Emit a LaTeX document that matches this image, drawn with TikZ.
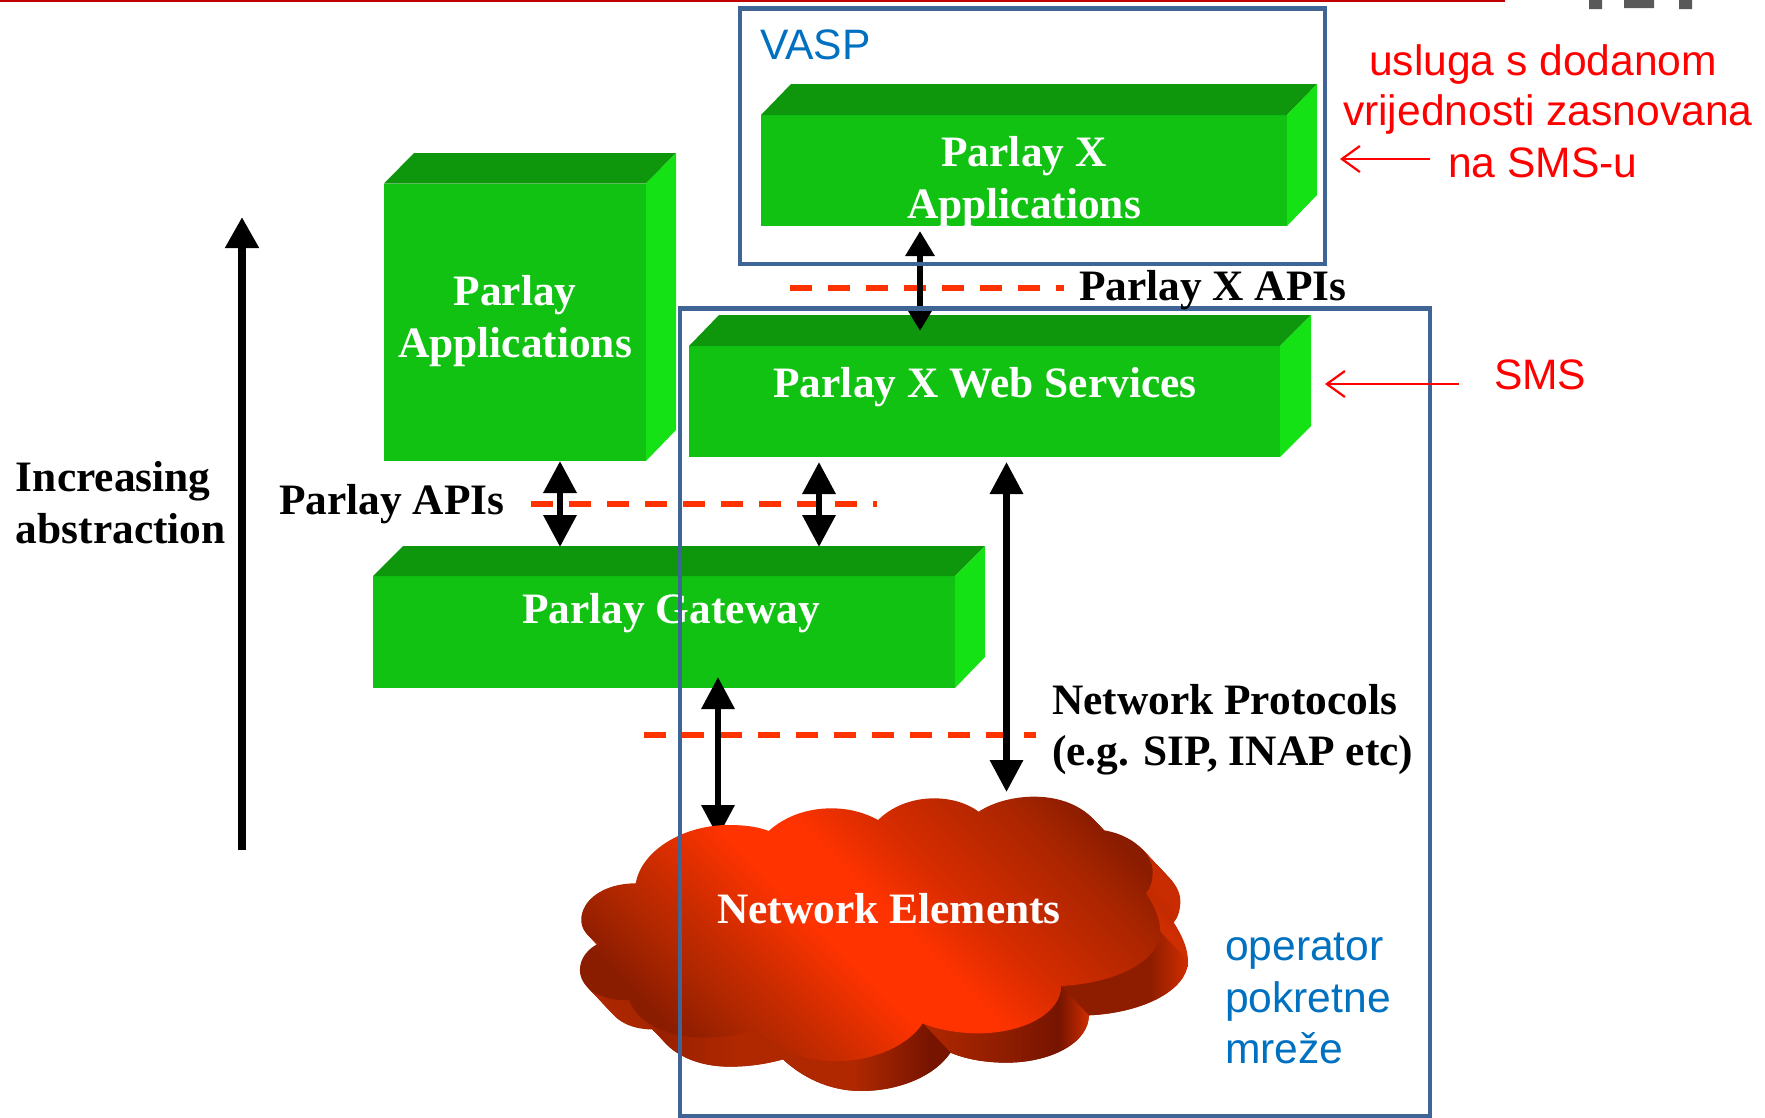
\documentclass[tikz,border=0pt]{standalone}
\usepackage{fontspec}
\setmainfont{Liberation Serif}
\newfontfamily\arialf{Liberation Sans}
\usetikzlibrary{arrows.meta}
\definecolor{gfront}{HTML}{11C213}
\definecolor{gtop}{HTML}{0E960D}
\definecolor{gside}{HTML}{14E214}
\definecolor{frameblue}{HTML}{3F6496}
\definecolor{txtblue}{HTML}{0070C0}
\definecolor{dashred}{HTML}{FF3300}
\definecolor{cA}{HTML}{8A1C00}
\definecolor{cB}{HTML}{A82500}
\definecolor{cC}{HTML}{D82C00}
\definecolor{cD}{HTML}{FF3300}
\definecolor{cE}{HTML}{AF2700}
\definecolor{cF}{HTML}{CC2C00}
\definecolor{sdark}{HTML}{761400}
\definecolor{smid}{HTML}{8E1D00}
\definecolor{slight}{HTML}{B02800}
\definecolor{sbright}{HTML}{D02E00}
\pgfdeclareverticalshading{cloudtop}{100bp}{color(0bp)=(cA); color(24.5bp)=(cA); color(31.6bp)=(cE); color(37.3bp)=(cF); color(45.8bp)=(cD); color(52.8bp)=(cD); color(59.9bp)=(cC); color(72.6bp)=(cB); color(78.3bp)=(cA); color(100bp)=(cA)}
\pgfdeclarehorizontalshading{sidebase}{100bp}{color(0bp)=(slight); color(25bp)=(slight); color(40bp)=(smid); color(68bp)=(smid); color(75bp)=(sbright); color(100bp)=(sbright)}
\pgfdeclarehorizontalshading{lobeA}{100bp}{color(0bp)=(smid); color(25bp)=(smid); color(60bp)=(smid); color(75bp)=(sbright); color(100bp)=(sbright)}
\pgfdeclarehorizontalshading{lobeB}{100bp}{color(0bp)=(slight); color(25bp)=(slight); color(50bp)=(smid); color(66bp)=(sdark); color(75bp)=(sbright); color(100bp)=(sbright)}
\pgfdeclarehorizontalshading{lobeC}{100bp}{color(0bp)=(slight); color(25bp)=(slight); color(50bp)=(slight); color(70bp)=(sdark); color(75bp)=(sdark); color(100bp)=(sdark)}
\pgfdeclarehorizontalshading{lobeD}{100bp}{color(0bp)=(smid); color(25bp)=(smid); color(60bp)=(slight); color(75bp)=(slight); color(100bp)=(slight)}
\tikzset{
  front/.style={fill=gfront,draw=none,inner sep=0pt,outer sep=0pt,text=white,align=center,anchor=north west},
  topface/.style={fill=gtop,draw=none},
  sideface/.style={fill=gside,draw=none},
  serifb/.style={font=\fontsize{43.4}{52}\selectfont\bfseries,inner sep=0pt,outer sep=0pt,anchor=base west},
  whiteb/.style={serifb,text=white,anchor=base},
  sanslab/.style={font=\arialf\fontsize{42.6}{51}\selectfont,inner sep=0pt,outer sep=0pt,anchor=base west},
  redlab/.style={sanslab,text=red},
  bluelab/.style={sanslab,text=txtblue},
  redarrow/.style={draw=red,line width=2.2pt,-{Straight Barb[length=18pt,width=26pt,line width=2.2pt]}},
  frameline/.style={draw=frameblue,line width=4.6pt},
  apidash/.style={draw=dashred,line width=6pt,dash pattern=on 22pt off 16pt},
  bigdbl/.style={draw=black,line width=6.5pt,{Triangle[length=32pt,width=32pt]}-{Triangle[length=32pt,width=32pt]}},
  smalldbl/.style={draw=black,line width=6.5pt,{Triangle[length=25pt,width=28pt]}-{Triangle[length=25pt,width=28pt]}},
  uparrow/.style={draw=black,line width=8pt,-{Triangle[length=31pt,width=32pt]}},
}
\newcommand{\cloudoutline}{(192,370)
 .. controls (205,270) and (300,195) .. (400,195)
 .. controls (435,195) and (465,200) .. (490,213)
 .. controls (525,170) and (575,145) .. (630,145)
 .. controls (670,145) and (705,158) .. (735,180)
 .. controls (765,140) and (810,115) .. (860,115)
 .. controls (900,115) and (935,130) .. (960,155)
 .. controls (995,125) and (1040,110) .. (1085,110)
 .. controls (1155,110) and (1210,150) .. (1235,210)
 .. controls (1300,220) and (1350,280) .. (1350,335)
 .. controls (1350,360) and (1345,385) .. (1335,400)
 .. controls (1355,440) and (1367,480) .. (1367,515)
 .. controls (1367,600) and (1270,670) .. (1145,678)
 .. controls (1145,760) and (1060,820) .. (960,820)
 .. controls (915,820) and (870,810) .. (835,790)
 .. controls (800,860) and (720,905) .. (635,905)
 .. controls (560,905) and (500,860) .. (460,810)
 .. controls (420,825) and (380,832) .. (340,832)
 .. controls (260,832) and (195,785) .. (178,720)
 .. controls (110,725) and (67,680) .. (67,630)
 .. controls (67,595) and (85,565) .. (110,550)
 .. controls (85,530) and (70,510) .. (70,480)
 .. controls (70,420) and (120,370) .. (192,370) -- cycle}
\begin{document}
\begin{tikzpicture}[x=1pt,y=-1pt]
\useasboundingbox (0,0) rectangle (1765,1117);
% header remnants
\fill[fill=red!75!black] (0,0) rectangle (1505,2);
\fill[fill=black!65] (1589,0) rectangle (1602,9) (1624,0) rectangle (1654,8) (1679,0) rectangle (1692,9);
% green blocks
\node[front,minimum width=262pt,minimum height=277.5pt] (papps) at (384,183.5) {};
\fill[topface] (papps.north west) -- (414,153) -- (676,153) -- (papps.north east) -- cycle;
\fill[sideface] (papps.north east) -- (676,153) -- (676,430) -- (papps.south east) -- cycle;
\node[front,minimum width=526pt,minimum height=111pt] (pxapps) at (761,115) {};
\fill[topface] (pxapps.north west) -- (791,84) -- (1317,84) -- (pxapps.north east) -- cycle;
\fill[sideface] (pxapps.north east) -- (1317,84) -- (1317,195) -- (pxapps.south east) -- cycle;
\node[front,minimum width=591pt,minimum height=111pt] (pxws) at (689,346) {};
\fill[topface] (pxws.north west) -- (719,315) -- (1311,315) -- (pxws.north east) -- cycle;
\fill[sideface] (pxws.north east) -- (1311,315) -- (1311,426) -- (pxws.south east) -- cycle;
\node[front,minimum width=582pt,minimum height=112pt] (gw) at (373,576) {};
\fill[topface] (gw.north west) -- (403,546) -- (985,546) -- (gw.north east) -- cycle;
\fill[sideface] (gw.north east) -- (985,546) -- (985,657) -- (gw.south east) -- cycle;
% block labels
\node[whiteb] (t1) at (515,305) {Parlay};
\node[whiteb] (t2) at (515,357) {Applications};
\node[whiteb] (t3) at (1024,166) {Parlay X};
\node[whiteb] (t4) at (1024,218) {Applications};
\node[whiteb] (t5) at (985,397) {Parlay X Web Services};
\node[whiteb] (t6) at (671,623) {Parlay Gateway};
% dashed API lines
\draw[apidash] (790,288) -- (1064,288);
\draw[apidash] (531,504) -- (877,504);
\draw[apidash] (644,735) -- (1036,735);
% black arrows
\coordinate (a1a) at (920,231); \coordinate (a1b) at (920,331);
\coordinate (a2a) at (560,461); \coordinate (a2b) at (560,547);
\coordinate (a3a) at (819,462); \coordinate (a3b) at (819,547);
\coordinate (a4a) at (1006.5,462); \coordinate (a4b) at (1006.5,792);
\coordinate (a5a) at (718,677); \coordinate (a5b) at (718,837);
\coordinate (a6a) at (242,850); \coordinate (a6b) at (242,217);
\draw[smalldbl] (a1a) -- (a1b);
\draw[bigdbl] (a2a) -- (a2b);
\draw[bigdbl] (a3a) -- (a3b);
\draw[bigdbl] (a4a) -- (a4b);
\draw[bigdbl] (a5a) -- (a5b);
\draw[uparrow] (a6a) -- (a6b);
% cloud
\begin{scope}[x=0.44643pt,y=-0.33333pt,shift={(1232,2280)}]
\foreach \i in {30,29,...,1}{
  \shade[shading=sidebase,shift={(\i*2.067,\i*2.933)}] \cloudoutline;
}
% swept sides of the front lobes
\shade[shading=lobeA] (1367,515) .. controls (1367,600) and (1270,670) .. (1145,678) -- (1207,766) .. controls (1332,758) and (1429,688) .. (1429,603) -- cycle;
\shade[shading=lobeD] (460,810) .. controls (420,825) and (380,832) .. (340,832) .. controls (260,832) and (195,785) .. (178,720) -- (240,808) .. controls (257,873) and (322,920) .. (402,920) .. controls (442,920) and (482,913) .. (522,898) -- cycle;
\shade[shading=lobeB] (1145,678) .. controls (1145,760) and (1060,820) .. (960,820) .. controls (915,820) and (870,810) .. (835,790) -- (897,878) .. controls (932,898) and (977,908) .. (1022,908) .. controls (1122,908) and (1207,848) .. (1207,766) -- cycle;
\shade[shading=lobeC] (835,790) .. controls (800,860) and (720,905) .. (635,905) .. controls (560,905) and (500,860) .. (460,810) -- (522,898) .. controls (562,948) and (622,993) .. (697,993) .. controls (782,993) and (862,948) .. (897,878) -- cycle;
\shade[shading=cloudtop,shading angle=-45] \cloudoutline;
\end{scope}
\node[whiteb] (cloud) at (889,923) {Network Elements};
% frames
\node[frameline,draw,inner sep=0pt,outer sep=0pt,minimum width=585pt,minimum height=255.5pt,anchor=north west] (vasp) at (740,8.5) {};
\node[frameline,draw,inner sep=0pt,outer sep=0pt,minimum width=750pt,minimum height=808pt,anchor=north west] (sms) at (680,308.5) {};
% black labels
\node[serifb] (l1) at (16,491) {Increasing};
\node[serifb] (l2) at (16,543) {abstraction};
\node[serifb] (l3) at (279,514) {Parlay APIs};
\node[serifb] (l4) at (1079,300) {Parlay X APIs};
\node[serifb] (l5) at (1052,714) {Network Protocols};
\node[serifb] (l6) at (1052,765) {(e.g. SIP, INAP etc)};
% red labels
\node[redlab] (r1) at (1369,75) {usluga s dodanom};
\node[redlab] (r2) at (1343,125) {vrijednosti zasnovana};
\node[redlab] (r3) at (1448,177) {na SMS-u};
\node[redlab] (r4) at (1494,389) {SMS};
\coordinate (r3t) at (1430,159); \coordinate (r3h) at (1340,159);
\coordinate (r4t) at (1459,384); \coordinate (r4h) at (1325,384);
\draw[redarrow] (r3t) -- (r3h);
\draw[redarrow] (r4t) -- (r4h);
% blue labels
\node[bluelab] (b0) at (760,59) {VASP};
\node[bluelab] (b1) at (1225,960) {operator};
\node[bluelab] (b2) at (1225,1012) {pokretne};
\node[bluelab] (b3) at (1225,1063) {mreže};
\end{tikzpicture}
\end{document}
